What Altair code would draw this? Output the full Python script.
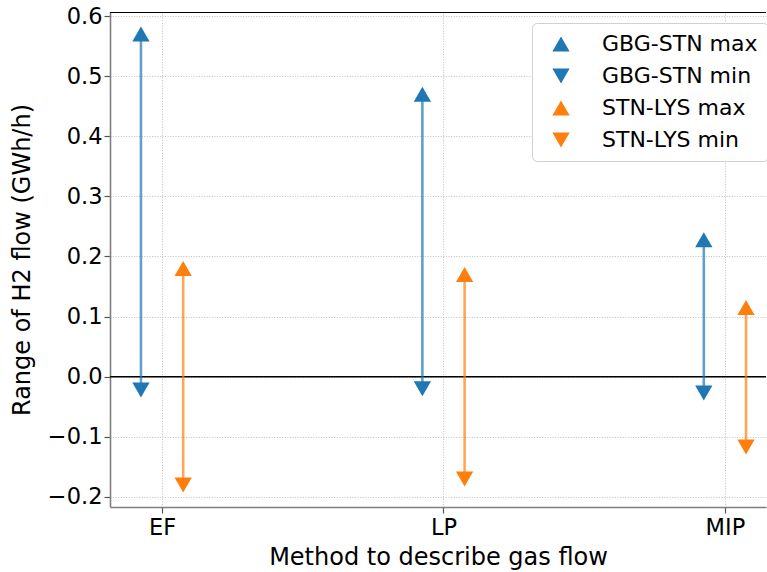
import altair as alt
import pandas as pd

methods = ["EF", "LP", "MIP"]
gbg_stn_max = [0.570, 0.470, 0.228]
gbg_stn_min = [-0.022, -0.020, -0.027]
stn_lys_max = [0.180, 0.170, 0.115]
stn_lys_min = [-0.180, -0.170, -0.117]

series_labels = ["GBG-STN max", "GBG-STN min", "STN-LYS max", "STN-LYS min"]
blue = "#1f77b4"
orange = "#ff7f0e"
offset = 0.075

pts = []
lines = []
for i, m in enumerate(methods):
    xb = i - offset
    xo = i + offset
    pts.append({"x": xb, "v": gbg_stn_max[i], "s": series_labels[0]})
    pts.append({"x": xb, "v": gbg_stn_min[i], "s": series_labels[1]})
    pts.append({"x": xo, "v": stn_lys_max[i], "s": series_labels[2]})
    pts.append({"x": xo, "v": stn_lys_min[i], "s": series_labels[3]})
    lines.append({"x": xb, "hi": gbg_stn_max[i], "lo": gbg_stn_min[i], "c": blue})
    lines.append({"x": xo, "hi": stn_lys_max[i], "lo": stn_lys_min[i], "c": orange})

df_pts = pd.DataFrame(pts)
df_lines = pd.DataFrame(lines)

W, H = 656, 495
xscale = alt.Scale(domain=[-0.185, 2.146], nice=False, zero=False)
yscale = alt.Scale(domain=[-0.2167, 0.6067], nice=False, zero=False)
yticks = [-0.2, -0.1, 0.0, 0.1, 0.2, 0.3, 0.4, 0.5, 0.6]

label_expr = "datum.value < 0.5 ? 'EF' : (datum.value < 1.5 ? 'LP' : 'MIP')"

xaxis = alt.Axis(values=[0, 1, 2], labelExpr=label_expr, title="Method to describe gas flow",
                 grid=True, labelPadding=3, titlePadding=7)
yaxis = alt.Axis(values=yticks, format=".1f",
                 labelExpr="replace(format(datum.value, '.1f'), '-', '\u2212')",
                 title="Range of H2 flow (GWh/h)", grid=True, titlePadding=13)

base_lines = alt.Chart(df_lines).mark_rule(strokeWidth=2.6, opacity=0.7).encode(
    x=alt.X("x:Q", scale=xscale, axis=xaxis),
    y=alt.Y("hi:Q", scale=yscale, axis=yaxis),
    y2="lo:Q",
    color=alt.Color("c:N", scale=None),
)

zero_line = alt.Chart(pd.DataFrame({"z": [0.0]})).mark_rule(color="black", strokeWidth=1.4).encode(
    y=alt.Y("z:Q", scale=yscale)
)

top_line = alt.Chart(pd.DataFrame({"z": [0.0]})).mark_rule(color="black", strokeWidth=1).encode(
    y=alt.value(0.5)
)

legend = alt.Legend(title=None, orient="none", legendX=422, legendY=11)

points = alt.Chart(df_pts).mark_point(filled=True, opacity=1, size=300).encode(
    x=alt.X("x:Q", scale=xscale),
    y=alt.Y("v:Q", scale=yscale),
    color=alt.Color("s:N", scale=alt.Scale(domain=series_labels, range=[blue, blue, orange, orange]),
                    legend=legend),
    shape=alt.Shape("s:N", scale=alt.Scale(domain=series_labels,
                                           range=["triangle-up", "triangle-down", "triangle-up", "triangle-down"]),
                    legend=legend),
)

chart = alt.layer(zero_line, base_lines, points, top_line).properties(
    width=W, height=H,
    autosize=alt.AutoSizeParams(type="none"),
    padding={"left": 110, "top": 12, "right": 1, "bottom": 65},
    background="white",
).configure_view(stroke=None).configure_axis(
    labelFont="DejaVu Sans", titleFont="DejaVu Sans",
    labelFontSize=22.5, titleFontSize=24, titleFontWeight="normal",
    labelColor="black", titleColor="black",
    domainColor="#7f7f7f", domainWidth=1.6,
    tickColor="#555555", tickSize=6, tickWidth=1.2,
    gridColor="#b0b0b0", gridDash=[1, 1.6], gridWidth=0.8,
).configure_legend(
    labelFont="DejaVu Sans", labelFontSize=22, labelColor="black",
    symbolSize=300, symbolStrokeWidth=0, labelOffset=30, symbolOffset=8,
    padding=10, rowPadding=10, cornerRadius=5,
    strokeColor="#d0d0d0", fillColor="white", symbolOpacity=1,
)

chart.save("out.html", embed_options={"renderer": "svg", "actions": False})
